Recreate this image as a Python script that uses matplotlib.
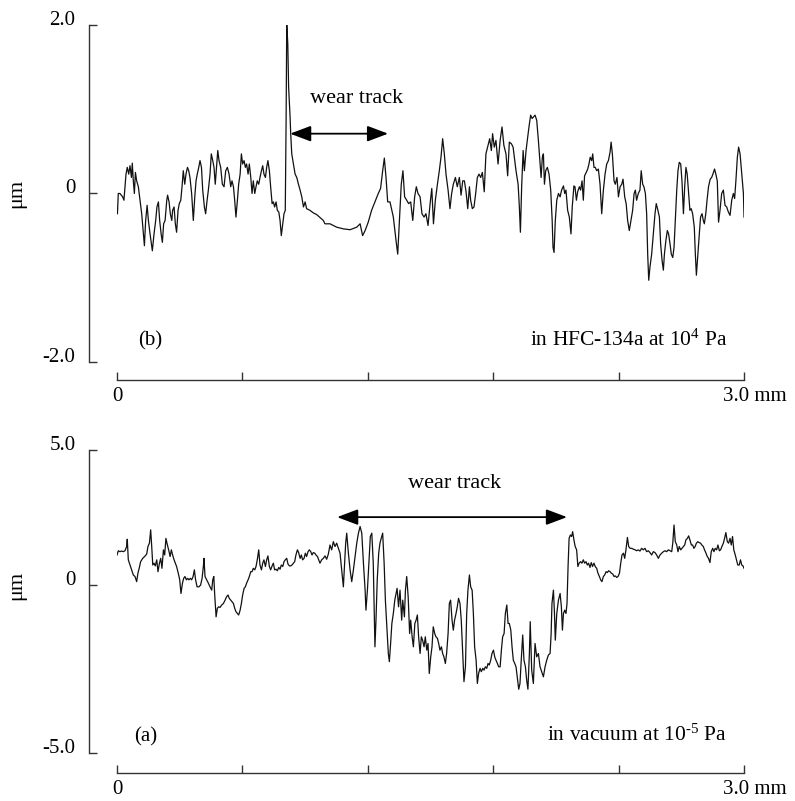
import matplotlib
matplotlib.use("Agg")
import matplotlib.pyplot as plt

plt.rcParams['font.family'] = ['Liberation Serif', 'DejaVu Serif']
plt.rcParams['mathtext.default'] = 'regular'

# (b) profile in HFC-134a, x in mm, height in um
top_x = [0.002, 0.006, 0.014, 0.027, 0.033, 0.043, 0.049, 0.056, 0.062, 0.069, 0.073, 0.078, 0.083, 0.088,
         0.094, 0.102, 0.110, 0.118, 0.126, 0.131, 0.137, 0.144, 0.150, 0.158, 0.169, 0.177, 0.185, 0.191,
         0.198, 0.204, 0.211, 0.217, 0.223, 0.230, 0.238, 0.242, 0.249, 0.255, 0.262, 0.266, 0.273, 0.279,
         0.285, 0.292, 0.298, 0.305, 0.311, 0.317, 0.324, 0.330, 0.337, 0.343, 0.349, 0.357, 0.365, 0.372,
         0.378, 0.384, 0.391, 0.397, 0.404, 0.410, 0.418, 0.424, 0.431, 0.437, 0.445, 0.451, 0.458, 0.464,
         0.470, 0.477, 0.482, 0.488, 0.496, 0.504, 0.512, 0.520, 0.528, 0.536, 0.544, 0.550, 0.557, 0.563,
         0.569, 0.576, 0.582, 0.589, 0.595, 0.601, 0.608, 0.614, 0.620, 0.627, 0.633, 0.640, 0.646, 0.652,
         0.659, 0.665, 0.671, 0.678, 0.684, 0.691, 0.697, 0.703, 0.710, 0.716, 0.722, 0.729, 0.735, 0.742,
         0.748, 0.754, 0.761, 0.767, 0.774, 0.780, 0.786, 0.793, 0.799, 0.805, 0.809, 0.812, 0.817, 0.821,
         0.828, 0.831, 0.836, 0.844, 0.852, 0.860, 0.868, 0.876, 0.884, 0.892, 0.900, 0.907, 0.923, 0.939,
         0.955, 0.987, 0.995, 1.019, 1.051, 1.083, 1.115, 1.147, 1.163, 1.175, 1.187, 1.202, 1.218, 1.234,
         1.250, 1.261, 1.271, 1.279, 1.287, 1.295, 1.306, 1.322, 1.335, 1.343, 1.351, 1.360, 1.368, 1.376,
         1.386, 1.395, 1.405, 1.415, 1.424, 1.432, 1.440, 1.450, 1.459, 1.469, 1.478, 1.488, 1.498, 1.506,
         1.514, 1.523, 1.533, 1.542, 1.550, 1.558, 1.566, 1.574, 1.584, 1.593, 1.601, 1.609, 1.619, 1.628,
         1.638, 1.646, 1.654, 1.662, 1.670, 1.678, 1.686, 1.692, 1.700, 1.708, 1.716, 1.724, 1.732, 1.740,
         1.748, 1.757, 1.765, 1.775, 1.783, 1.791, 1.797, 1.805, 1.813, 1.823, 1.833, 1.842, 1.851, 1.861,
         1.869, 1.877, 1.887, 1.895, 1.903, 1.909, 1.919, 1.925, 1.930, 1.936, 1.943, 1.949, 1.957, 1.963,
         1.971, 1.979, 1.986, 2.000, 2.008, 2.016, 2.024, 2.029, 2.035, 2.040, 2.045, 2.051, 2.059, 2.067,
         2.075, 2.082, 2.086, 2.091, 2.097, 2.104, 2.112, 2.120, 2.127, 2.136, 2.142, 2.148, 2.156, 2.164,
         2.172, 2.178, 2.186, 2.191, 2.198, 2.204, 2.212, 2.218, 2.225, 2.231, 2.237, 2.245, 2.252, 2.258,
         2.264, 2.271, 2.276, 2.282, 2.288, 2.295, 2.303, 2.311, 2.319, 2.327, 2.335, 2.343, 2.351, 2.359,
         2.364, 2.370, 2.378, 2.384, 2.392, 2.399, 2.407, 2.415, 2.421, 2.429, 2.436, 2.443, 2.451, 2.459,
         2.467, 2.474, 2.480, 2.486, 2.494, 2.502, 2.508, 2.515, 2.521, 2.528, 2.534, 2.539, 2.544, 2.550,
         2.558, 2.566, 2.574, 2.580, 2.588, 2.595, 2.601, 2.608, 2.614, 2.619, 2.626, 2.633, 2.639, 2.646,
         2.652, 2.659, 2.665, 2.671, 2.678, 2.684, 2.690, 2.697, 2.703, 2.710, 2.716, 2.722, 2.728, 2.735,
         2.741, 2.747, 2.754, 2.762, 2.767, 2.772, 2.779, 2.786, 2.792, 2.799, 2.805, 2.810, 2.817, 2.823,
         2.830, 2.838, 2.845, 2.851, 2.859, 2.865, 2.872, 2.878, 2.885, 2.893, 2.901, 2.909, 2.917, 2.925,
         2.933, 2.941, 2.949, 2.955, 2.961, 2.968, 2.974, 2.981, 2.989, 2.997, 3.000]
top_y = [-0.24, 0.00, 0.00, -0.04, -0.08, 0.23, 0.31, 0.23, 0.33, 0.19, 0.36, 0.15, 0.00, 0.25,
         0.15, 0.08, -0.08, -0.24, -0.48, -0.62, -0.32, -0.14, -0.32, -0.48, -0.68, -0.48, -0.32, -0.16,
         -0.10, -0.32, -0.48, -0.58, -0.36, -0.32, -0.08, -0.02, -0.10, -0.24, -0.32, -0.20, -0.16, -0.36,
         -0.46, -0.20, -0.12, -0.08, 0.08, 0.27, 0.11, 0.23, 0.31, 0.27, 0.19, 0.00, -0.32, -0.04,
         0.15, 0.23, 0.31, 0.39, 0.31, 0.04, -0.16, -0.24, -0.08, 0.04, 0.23, 0.47, 0.39, 0.31,
         0.11, 0.35, 0.51, 0.39, 0.31, 0.11, 0.08, 0.27, 0.31, 0.23, 0.08, 0.15, 0.08, -0.08,
         -0.28, -0.08, 0.11, 0.23, 0.47, 0.35, 0.39, 0.31, 0.35, 0.23, 0.35, 0.19, 0.00, 0.15,
         0.00, 0.08, 0.15, 0.11, 0.19, 0.27, 0.33, 0.23, 0.19, 0.31, 0.39, 0.27, 0.08, -0.12,
         -0.10, -0.16, -0.10, -0.20, -0.22, -0.32, -0.50, -0.36, -0.24, -0.20, 0.87, 2.01, 1.78, 1.26,
         0.91, 0.71, 0.47, 0.35, 0.23, 0.19, 0.11, 0.04, -0.04, -0.16, -0.10, -0.18, -0.20, -0.23,
         -0.25, -0.32, -0.36, -0.36, -0.40, -0.42, -0.43, -0.40, -0.36, -0.50, -0.44, -0.34, -0.20, -0.10,
         0.00, 0.06, 0.27, 0.42, 0.19, -0.10, -0.10, -0.28, -0.56, -0.72, -0.32, 0.11, 0.27, -0.04,
         -0.08, -0.12, -0.10, -0.32, -0.04, 0.08, 0.00, -0.04, -0.24, -0.28, -0.24, -0.38, -0.12, 0.06,
         -0.36, -0.08, 0.11, 0.27, 0.43, 0.65, 0.47, 0.23, 0.04, -0.18, 0.00, 0.11, 0.19, 0.08,
         0.19, -0.02, 0.15, 0.15, 0.02, -0.18, 0.08, -0.08, -0.18, -0.16, 0.00, 0.19, 0.23, 0.19,
         0.25, 0.02, 0.47, 0.57, 0.65, 0.51, 0.71, 0.55, 0.63, 0.35, 0.63, 0.79, 0.57, 0.47,
         0.21, 0.61, 0.59, 0.55, 0.39, 0.27, 0.11, -0.16, -0.46, 0.08, 0.51, 0.27, 0.51, 0.63,
         0.79, 0.93, 0.89, 0.93, 0.87, 0.63, 0.35, 0.19, 0.43, 0.47, 0.11, 0.27, 0.31, 0.23,
         0.04, -0.32, -0.64, -0.70, -0.32, -0.08, 0.00, -0.04, 0.04, 0.09, 0.00, 0.04, -0.20, -0.28,
         -0.48, -0.16, 0.09, 0.08, -0.08, 0.02, 0.08, 0.04, 0.15, -0.08, 0.21, 0.25, 0.29, 0.35,
         0.43, 0.39, 0.47, 0.31, 0.31, 0.27, 0.29, 0.11, -0.24, 0.04, 0.23, 0.35, 0.39, 0.49,
         0.61, 0.47, 0.15, 0.11, 0.19, -0.04, 0.08, 0.11, 0.17, -0.04, -0.12, -0.32, -0.44, -0.32,
         -0.20, 0.00, 0.04, -0.08, 0.00, 0.04, 0.27, 0.11, 0.08, 0.00, -0.24, -0.72, -1.03, -0.87,
         -0.72, -0.48, -0.24, -0.12, -0.20, -0.28, -0.60, -0.80, -0.91, -0.72, -0.56, -0.44, -0.48, -0.60,
         -0.72, -0.76, -0.64, -0.32, 0.04, 0.27, 0.37, 0.35, 0.15, -0.24, 0.08, 0.31, 0.23, 0.00,
         -0.20, -0.18, -0.24, -0.40, -0.72, -0.97, -0.72, -0.48, -0.28, -0.24, -0.32, -0.36, -0.24, -0.08,
         0.08, 0.17, 0.19, 0.23, 0.29, 0.23, 0.15, -0.34, -0.20, 0.00, 0.04, -0.14, -0.16, -0.22,
         -0.26, -0.08, 0.00, -0.06, 0.15, 0.43, 0.55, 0.47, 0.23, 0.00, -0.28]

# (a) profile in vacuum, x in mm, height in um
bot_x = [0.000, 0.006, 0.014, 0.022, 0.030, 0.038, 0.046, 0.049, 0.054, 0.062, 0.070, 0.078, 0.086, 0.094,
         0.100, 0.107, 0.113, 0.123, 0.132, 0.142, 0.148, 0.155, 0.161, 0.166, 0.171, 0.177, 0.183, 0.190,
         0.196, 0.203, 0.209, 0.215, 0.222, 0.228, 0.234, 0.241, 0.247, 0.254, 0.260, 0.266, 0.273, 0.279,
         0.285, 0.293, 0.300, 0.306, 0.313, 0.319, 0.325, 0.332, 0.338, 0.344, 0.351, 0.357, 0.364, 0.370,
         0.376, 0.383, 0.392, 0.400, 0.407, 0.413, 0.416, 0.421, 0.429, 0.437, 0.445, 0.453, 0.458, 0.463,
         0.467, 0.474, 0.480, 0.486, 0.493, 0.501, 0.509, 0.517, 0.524, 0.531, 0.537, 0.544, 0.550, 0.557,
         0.563, 0.569, 0.576, 0.582, 0.589, 0.595, 0.601, 0.608, 0.614, 0.620, 0.627, 0.633, 0.640, 0.646,
         0.652, 0.659, 0.665, 0.671, 0.678, 0.684, 0.691, 0.697, 0.703, 0.710, 0.716, 0.722, 0.729, 0.735,
         0.742, 0.748, 0.754, 0.761, 0.767, 0.774, 0.780, 0.786, 0.793, 0.799, 0.805, 0.812, 0.818, 0.825,
         0.831, 0.837, 0.844, 0.850, 0.856, 0.863, 0.869, 0.876, 0.882, 0.888, 0.895, 0.901, 0.907, 0.914,
         0.920, 0.927, 0.933, 0.939, 0.946, 0.952, 0.959, 0.965, 0.971, 0.979, 0.987, 0.995, 1.003, 1.011,
         1.019, 1.027, 1.035, 1.043, 1.051, 1.059, 1.067, 1.075, 1.083, 1.088, 1.094, 1.099, 1.107, 1.115,
         1.123, 1.131, 1.139, 1.147, 1.155, 1.163, 1.171, 1.179, 1.187, 1.191, 1.198, 1.206, 1.212, 1.219,
         1.226, 1.230, 1.234, 1.239, 1.245, 1.252, 1.258, 1.264, 1.271, 1.278, 1.284, 1.290, 1.298, 1.303,
         1.309, 1.315, 1.322, 1.329, 1.335, 1.340, 1.347, 1.354, 1.362, 1.367, 1.375, 1.380, 1.386, 1.393,
         1.400, 1.405, 1.412, 1.418, 1.425, 1.431, 1.437, 1.443, 1.450, 1.456, 1.462, 1.469, 1.475, 1.482,
         1.488, 1.494, 1.501, 1.507, 1.513, 1.520, 1.526, 1.533, 1.539, 1.545, 1.552, 1.558, 1.564, 1.571,
         1.577, 1.584, 1.590, 1.596, 1.603, 1.609, 1.615, 1.622, 1.628, 1.634, 1.641, 1.647, 1.654, 1.660,
         1.667, 1.673, 1.679, 1.686, 1.692, 1.699, 1.705, 1.711, 1.718, 1.724, 1.730, 1.737, 1.743, 1.750,
         1.756, 1.762, 1.769, 1.775, 1.781, 1.788, 1.794, 1.801, 1.807, 1.813, 1.820, 1.826, 1.833, 1.839,
         1.845, 1.852, 1.858, 1.865, 1.871, 1.877, 1.884, 1.890, 1.896, 1.903, 1.909, 1.915, 1.922, 1.928,
         1.934, 1.941, 1.947, 1.954, 1.960, 1.966, 1.973, 1.977, 1.984, 1.992, 2.000, 2.008, 2.016, 2.024,
         2.032, 2.040, 2.048, 2.056, 2.064, 2.072, 2.077, 2.081, 2.088, 2.093, 2.097, 2.104, 2.112, 2.120,
         2.126, 2.131, 2.136, 2.142, 2.148, 2.153, 2.158, 2.163, 2.169, 2.175, 2.180, 2.186, 2.192, 2.199,
         2.205, 2.211, 2.218, 2.224, 2.231, 2.237, 2.244, 2.250, 2.256, 2.263, 2.269, 2.275, 2.282, 2.288,
         2.295, 2.301, 2.308, 2.314, 2.320, 2.327, 2.333, 2.340, 2.346, 2.352, 2.359, 2.365, 2.372, 2.378,
         2.384, 2.391, 2.397, 2.404, 2.410, 2.416, 2.423, 2.429, 2.435, 2.442, 2.448, 2.455, 2.463, 2.471,
         2.479, 2.486, 2.494, 2.502, 2.510, 2.518, 2.526, 2.534, 2.542, 2.550, 2.558, 2.566, 2.574, 2.582,
         2.590, 2.598, 2.606, 2.614, 2.622, 2.630, 2.638, 2.646, 2.654, 2.659, 2.665, 2.671, 2.678, 2.684,
         2.690, 2.697, 2.703, 2.710, 2.716, 2.722, 2.729, 2.735, 2.741, 2.748, 2.754, 2.760, 2.766, 2.772,
         2.779, 2.785, 2.792, 2.798, 2.805, 2.811, 2.818, 2.824, 2.830, 2.837, 2.843, 2.850, 2.856, 2.862,
         2.869, 2.875, 2.882, 2.888, 2.894, 2.901, 2.907, 2.913, 2.920, 2.926, 2.933, 2.939, 2.945, 2.951,
         2.958, 2.964, 2.970, 2.977, 2.983, 2.989, 2.995, 3.000]
bot_y = [0.99, 1.13, 1.10, 1.12, 1.10, 1.13, 1.27, 1.51, 0.83, 0.66, 0.50, 0.33, 0.28, 0.11,
         0.39, 0.58, 0.77, 0.88, 0.94, 1.02, 1.27, 1.38, 1.82, 1.27, 0.66, 0.72, 0.63, 0.83,
         0.44, 0.72, 0.88, 0.55, 1.16, 0.99, 1.54, 1.32, 1.16, 0.94, 1.16, 0.99, 0.83, 0.72,
         0.61, 0.39, 0.17, -0.28, 0.06, 0.22, 0.28, 0.17, 0.22, 0.17, 0.22, 0.17, 0.28, 0.50,
         0.17, -0.06, -0.06, 0.00, 0.22, 0.61, 0.88, 0.28, 0.17, 0.06, -0.06, -0.17, 0.17, 0.28,
         -0.28, -1.05, -0.77, -0.72, -0.74, -0.66, -0.61, -0.50, -0.39, -0.33, -0.44, -0.50, -0.55, -0.61,
         -0.77, -0.88, -0.94, -0.99, -0.83, -0.61, -0.33, -0.11, -0.06, 0.06, 0.17, 0.28, 0.44, 0.44,
         0.55, 0.50, 0.61, 0.83, 1.16, 0.66, 0.50, 0.72, 0.83, 0.61, 0.83, 0.96, 0.61, 0.50,
         0.63, 0.72, 0.50, 0.52, 0.47, 0.58, 0.52, 0.66, 0.61, 0.77, 0.83, 0.88, 0.69, 0.63,
         0.63, 0.66, 0.72, 0.77, 0.99, 1.16, 1.07, 0.88, 0.99, 0.83, 0.88, 1.05, 0.94, 1.10,
         1.16, 1.10, 0.99, 1.07, 1.05, 0.99, 0.94, 0.83, 0.72, 0.83, 0.88, 0.96, 0.85, 1.02,
         1.32, 1.16, 1.43, 1.27, 1.38, 1.21, 1.05, 0.50, -0.06, 0.61, 1.38, 1.71, 1.05, 0.50,
         0.11, 0.50, 0.94, 1.38, 1.71, 1.93, 1.71, 0.72, -0.17, -0.83, -0.17, 0.83, 1.60, 1.71,
         0.72, -0.72, -2.04, -1.16, 0.17, 1.05, 1.38, 1.54, 1.71, 0.72, -0.50, -1.27, -2.26, -2.53,
         -1.93, -1.27, -0.94, -0.50, -0.28, -0.11, -0.72, -0.17, -1.16, -0.50, -1.05, -0.17, 0.28, -0.39,
         -1.60, -1.16, -1.71, -2.04, -1.27, -1.16, -0.99, -1.71, -2.26, -1.71, -1.82, -2.04, -1.71, -2.15,
         -1.93, -2.92, -2.37, -2.04, -1.38, -1.60, -1.71, -1.76, -1.93, -2.15, -2.04, -2.26, -2.37, -2.59,
         -2.26, -1.60, -0.61, -0.50, -1.16, -1.49, -1.16, -0.94, -0.72, -0.44, -0.61, -1.16, -2.26, -3.19,
         -2.70, -0.94, -0.17, 0.33, -0.06, -0.17, -0.94, -2.04, -2.48, -3.25, -2.92, -2.75, -2.86, -2.75,
         -2.81, -2.70, -2.75, -2.59, -2.64, -2.48, -2.26, -2.15, -2.37, -2.48, -2.59, -2.70, -2.70, -2.15,
         -1.71, -1.60, -0.94, -0.66, -1.27, -1.27, -1.49, -2.04, -2.48, -2.59, -2.70, -3.03, -3.44, -3.25,
         -2.48, -1.65, -2.48, -2.70, -3.14, -3.44, -2.26, -1.21, -2.81, -3.25, -1.93, -2.37, -2.26, -2.70,
         -2.86, -3.03, -2.70, -2.48, -2.31, -2.26, -1.60, -0.61, -0.17, -0.94, -1.82, -0.94, -0.50, -0.28,
         -0.72, -1.49, -0.94, -0.83, -0.94, -0.61, 0.61, 1.54, 1.65, 1.60, 1.76, 1.49, 1.27, 1.16,
         0.61, 0.72, 0.77, 0.72, 0.83, 0.72, 0.77, 0.66, 0.72, 0.58, 0.74, 0.61, 0.72, 0.61,
         0.55, 0.39, 0.28, 0.17, 0.11, 0.28, 0.33, 0.44, 0.41, 0.47, 0.44, 0.39, 0.36, 0.28,
         0.30, 0.25, 0.28, 0.39, 0.72, 0.99, 1.05, 0.88, 1.16, 1.57, 1.27, 1.21, 1.21, 1.18,
         1.16, 1.13, 1.16, 1.12, 1.21, 1.16, 1.21, 1.10, 1.13, 1.07, 0.99, 1.10, 1.07, 0.99,
         0.88, 0.99, 1.05, 1.10, 1.13, 1.10, 1.16, 1.13, 1.10, 1.38, 1.98, 1.43, 1.32, 1.10,
         1.27, 1.16, 1.21, 1.27, 1.32, 1.49, 1.54, 1.62, 1.49, 1.32, 1.32, 1.21, 1.27, 1.38,
         1.43, 1.40, 1.38, 1.32, 1.27, 1.16, 1.05, 0.94, 0.88, 0.74, 1.10, 1.21, 1.10, 1.21,
         1.16, 1.32, 1.13, 1.16, 1.27, 1.38, 1.54, 1.73, 1.43, 1.38, 1.54, 1.32, 1.60, 1.16,
         0.99, 0.83, 0.66, 0.66, 0.83, 0.66, 0.63, 0.55]

x_ticks = [0.0, 0.6, 1.2, 1.8, 2.4, 3.0]
x_labels = ['0', '', '', '', '', '']

fig = plt.figure(figsize=(7.95, 8.01), dpi=100)
ax_b = fig.add_axes([0.1472, 0.5481, 0.7887, 0.4207])
ax_a = fig.add_axes([0.1472, 0.0599, 0.7887, 0.3783])


def style_axis(ax, x_off, yticks, ylabels):
    for s in ['top', 'right']:
        ax.spines[s].set_visible(False)
    ax.spines['left'].set_position(('outward', 20))
    ax.spines['bottom'].set_position(('outward', x_off))
    for s in ['left', 'bottom']:
        ax.spines[s].set_linewidth(1.0)
        ax.spines[s].set_color('#333333')
    ax.set_xlim(0, 3.0)
    ax.set_xticks(x_ticks, x_labels)
    ax.set_yticks(yticks, ylabels)
    ax.tick_params(axis='y', direction='in', length=6, width=1.0, color='#333333', pad=10, labelsize=15)
    ax.tick_params(axis='x', direction='in', length=6, width=1.0, color='#333333', pad=5, labelsize=15)
    for t in ax.get_yticklabels():
        t.set_verticalalignment('baseline')
    ax.annotate('3.0 mm', xy=(3.0, 0), xycoords=('data', 'axes fraction'),
                xytext=(-15, -x_off - 5), textcoords='offset points',
                ha='left', va='top', fontsize=15)
    ax.set_ylabel('μm', fontsize=16)


# top panel (b)
ax_b.plot(top_x, top_y, color='#111111', lw=0.9)
ax_b.set_ylim(-2.0, 2.0)
style_axis(ax_b, 13, [2.0, 0.0, -2.0], ['2.0', '0', '-2.0'])
ax_b.yaxis.set_label_coords(-0.145, 0.5)
ax_b.annotate('', xy=(0.828, 0.71), xytext=(1.297, 0.71),
              arrowprops=dict(arrowstyle='<|-|>,head_length=0.85,head_width=0.32',
                              mutation_scale=15, lw=1.3, color='black', shrinkA=0, shrinkB=0))
ax_b.text(1.148, 1.13, 'wear track', ha='center', va='center', fontsize=16)
ax_b.text(0.158, -1.745, '(b)', ha='center', va='center', fontsize=15)
ax_b.text(2.45, -1.745, 'in HFC-134a at 10$^{4}$ Pa', ha='center', va='center', fontsize=15.5)

# bottom panel (a)
ax_a.plot(bot_x, bot_y, color='#111111', lw=0.9)
ax_a.set_ylim(-5.545, 4.455)
style_axis(ax_a, 14.5, [4.455, 0.0, -5.545], ['5.0', '0', '-5.0'])
ax_a.yaxis.set_label_coords(-0.145, 0.554)
ax_a.annotate('', xy=(1.053, 2.24), xytext=(2.153, 2.24),
              arrowprops=dict(arrowstyle='<|-|>,head_length=0.85,head_width=0.32',
                              mutation_scale=15, lw=1.3, color='black', shrinkA=0, shrinkB=0))
ax_a.text(1.617, 3.35, 'wear track', ha='center', va='center', fontsize=16)
ax_a.text(0.139, -5.0, '(a)', ha='center', va='center', fontsize=15)
ax_a.text(2.488, -4.95, 'in vacuum at 10$^{\u2010 5}$ Pa', ha='center', va='center', fontsize=15.5)

fig.savefig('out.png', dpi=100)
